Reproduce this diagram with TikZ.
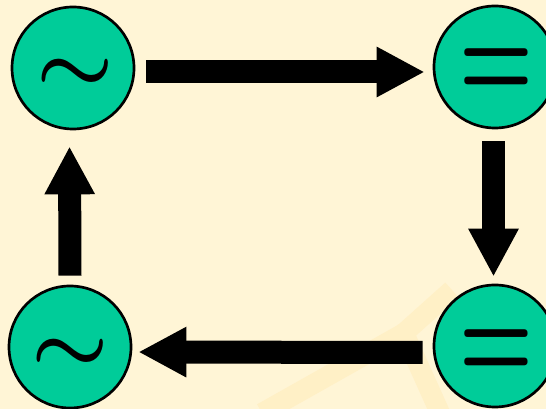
\documentclass[tikz,border=0pt]{standalone}
\usepackage{graphicx}
\usetikzlibrary{arrows.meta,calc}

\definecolor{paper}{RGB}{255,245,214}
\definecolor{glow}{RGB}{255,240,198}
\definecolor{disc}{RGB}{0,204,153}

\tikzset{every picture/.style={line width=0.75pt}}
\tikzset{
  disc/.style={circle, draw=black, line width=2pt, fill=disc, minimum size=91.5pt, inner sep=0pt},
  wave/.style={font=\boldmath, inner sep=0pt},
  equal/.style={font=\boldmath, inner sep=0pt},
  blockarrow/.style={draw=black, line width=17.25pt,
    -{Triangle[length=36pt,width=35.25pt]}},
  glowband/.style={draw=glow, line width=15pt}
}

\begin{document}
\begin{tikzpicture}[x=0.75pt,y=0.75pt,yscale=-1,xscale=1]
	% page
	\fill[paper] (0,0) rectangle (546,409);
	\useasboundingbox (0,0) rectangle (546,409);

	% faint band behind the lower right disc
	\draw[glowband] (262,413) -- (404,333) -- (440,413);
	\draw[glowband] (404,333) -- (452,290);

	% Discs
	\node[disc] (tl) at (73,68) {};
	\node[disc] (tr) at (495,67) {};
	\node[disc] (bl) at (70,347) {};
	\node[disc] (br) at (495,346) {};

	% Symbols
	\node[wave] (tlsym) at (75,75.5) {\scalebox{6.5}[6.2]{$\sim$}};
	\node[wave] (blsym) at (70,355.5) {\scalebox{6.5}[6.2]{$\sim$}};
	\node[equal] (trsym) at (496.5,74) {\scalebox{6.2}[9.5]{$=$}};
	\node[equal] (brsym) at (496.5,355) {\scalebox{6.2}[9.5]{$=$}};

	% Arrows round the loop
	\draw[blockarrow] ($(tl.east)+(11,4)$) -- ($(tr.west)+(-8,5)$);
	\draw[blockarrow] ($(tr.south)+(-1.5,12)$) -- ($(br.north)+(-1.5,-7)$);
	\draw[blockarrow] ($(br.west)+(-10,6.5)$) -- ($(bl.east)+(6,5)$);
	\draw[blockarrow] ($(bl.north)+(0,-9)$) -- ($(tl.south)+(-3.5,16)$);

\end{tikzpicture}
\end{document}
